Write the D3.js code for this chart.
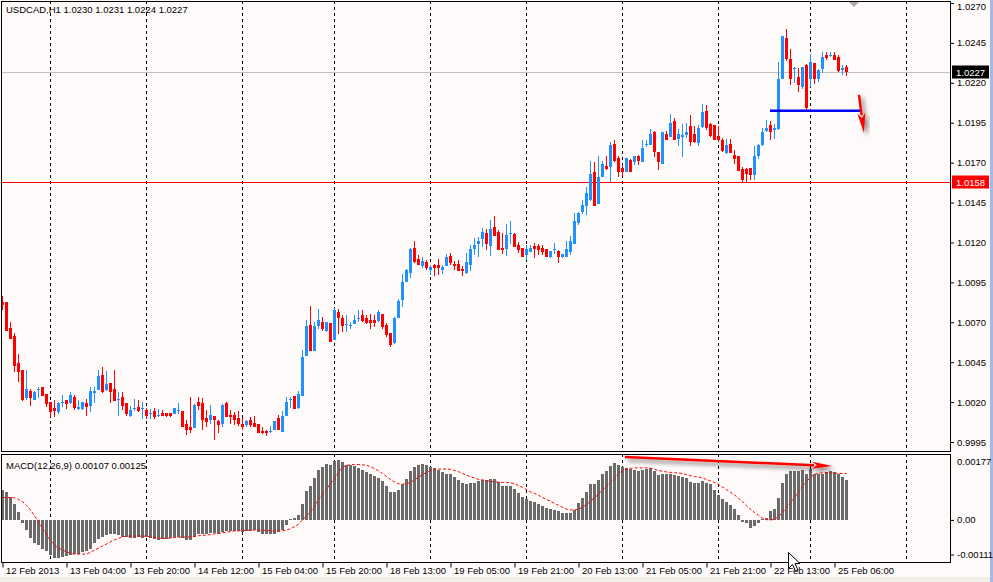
<!DOCTYPE html>
<html><head><meta charset="utf-8">
<script src="https://cdn.jsdelivr.net/npm/d3@7"></script>
<style>
body{margin:0;background:#FFFAFA;overflow:hidden}
text{font-family:"Liberation Sans",Arial,sans-serif;font-size:9.5px;fill:#000}
</style>
</head><body>
<svg id="chart" width="993" height="582"></svg>
<script>
// ---------- DATA ----------
const symbolTitle = "USDCAD,H1  1.0230 1.0231 1.0224 1.0227";
const macdTitle = "MACD(12,26,9) 0.00107 0.00125";

const opens = [
1.00827,1.00827,1.00664,1.00614,1.00445,1.00401,1.00224,1.00270,1.00213,1.00278,
1.00295,1.00249,1.00201,1.00165,1.00140,1.00196,1.00213,1.00192,1.00232,1.00157,
1.00157,1.00194,1.00176,1.00259,1.00276,1.00370,1.00276,1.00320,1.00282,1.00217,
1.00232,1.00194,1.00113,1.00161,1.00169,1.00161,1.00150,1.00130,1.00144,1.00117,
1.00130,1.00130,1.00130,1.00125,1.00148,1.00144,1.00063,1.00044,1.00038,1.00201,
1.00194,1.00100,1.00088,1.00113,1.00084,1.00063,1.00194,1.00119,1.00119,1.00100,
1.00063,1.00057,1.00088,1.00069,1.00063,1.00019,1.00019,1.00017,1.00025,1.00100,
1.00013,1.00113,1.00217,1.00238,1.00163,1.00238,1.00489,1.00683,1.00522,1.00677,
1.00702,1.00646,1.00696,1.00589,1.00765,1.00727,1.00687,1.00679,1.00689,1.00725,
1.00746,1.00727,1.00714,1.00714,1.00708,1.00752,1.00683,1.00633,1.00570,1.00727,
1.00840,1.00953,1.01009,1.01166,1.01097,1.01053,1.01078,1.01028,1.01059,1.01059,
1.01028,1.01053,1.01115,1.01065,1.01065,1.01034,1.01009,1.01059,1.01159,1.01191,
1.01222,1.01260,1.01178,1.01297,1.01266,1.01166,1.01159,1.01258,1.01253,1.01184,
1.01166,1.01122,1.01141,1.01178,1.01178,1.01166,1.01159,1.01109,1.01157,1.01147,
1.01109,1.01109,1.01141,1.01191,1.01322,1.01393,1.01431,1.01466,1.01642,1.01443,
1.01610,1.01679,1.01673,1.01817,1.01729,1.01667,1.01642,1.01717,1.01705,1.01742,
1.01705,1.01811,1.01811,1.01893,1.01767,1.01692,1.01880,1.01861,1.01961,1.01848,
1.01861,1.01874,1.01930,1.01880,1.01823,1.01924,1.02024,1.01942,1.01936,1.01867,
1.01842,1.01761,1.01817,1.01748,1.01742,1.01661,1.01661,1.01667,1.01623,1.01742,
1.01811,1.01899,1.01936,1.01905,1.01911,1.02224,1.02481,1.02350,1.02287,1.02237,
1.02174,1.02312,1.02224,1.02325,1.02224,1.02287,1.02375,1.02373,1.02375,1.02362,
1.02281,1.02300];

const highs = [
1.00865,1.00827,1.00702,1.00635,1.00501,1.00401,1.00401,1.00282,1.00267,1.00293,
1.00295,1.00249,1.00201,1.00213,1.00201,1.00244,1.00213,1.00263,1.00244,1.00213,
1.00201,1.00217,1.00295,1.00293,1.00401,1.00418,1.00395,1.00320,1.00401,1.00263,
1.00263,1.00194,1.00176,1.00222,1.00213,1.00201,1.00163,1.00157,1.00163,1.00157,
1.00150,1.00130,1.00130,1.00163,1.00194,1.00144,1.00088,1.00232,1.00188,1.00232,
1.00226,1.00150,1.00182,1.00113,1.00088,1.00188,1.00201,1.00150,1.00138,1.00144,
1.00100,1.00088,1.00107,1.00113,1.00063,1.00044,1.00025,1.00050,1.00082,1.00119,
1.00144,1.00232,1.00232,1.00238,1.00270,1.00526,1.00714,1.00802,1.00702,1.00783,
1.00733,1.00702,1.00696,1.00790,1.00783,1.00746,1.00746,1.00702,1.00746,1.00777,
1.00777,1.00746,1.00752,1.00746,1.00777,1.00752,1.00696,1.00633,1.00733,1.00846,
1.01003,1.01034,1.01166,1.01209,1.01122,1.01109,1.01090,1.01059,1.01065,1.01097,
1.01059,1.01128,1.01134,1.01084,1.01090,1.01053,1.01134,1.01184,1.01228,1.01234,
1.01291,1.01285,1.01341,1.01366,1.01278,1.01260,1.01316,1.01335,1.01260,1.01203,
1.01166,1.01184,1.01184,1.01197,1.01191,1.01184,1.01159,1.01147,1.01197,1.01153,
1.01128,1.01209,1.01241,1.01385,1.01391,1.01466,1.01548,1.01711,1.01705,1.01742,
1.01711,1.01742,1.01830,1.01842,1.01742,1.01686,1.01729,1.01723,1.01742,1.01748,
1.01842,1.01842,1.01911,1.01899,1.01767,1.01893,1.01899,1.02005,1.01980,1.01911,
1.01942,1.01949,1.01999,1.01930,1.01936,1.02068,1.02061,1.01949,1.01936,1.01930,
1.01855,1.01848,1.01848,1.01780,1.01742,1.01673,1.01667,1.01667,1.01805,1.01817,
1.01917,1.01968,1.01961,1.01942,1.02331,1.02494,1.02538,1.02412,1.02300,1.02293,
1.02300,1.02318,1.02381,1.02325,1.02287,1.02394,1.02394,1.02394,1.02394,1.02375,
1.02312,1.02310];

const lows = [
1.00777,1.00648,1.00597,1.00391,1.00328,1.00209,1.00213,1.00176,1.00213,1.00226,
1.00240,1.00171,1.00109,1.00109,1.00125,1.00167,1.00157,1.00188,1.00150,1.00150,
1.00150,1.00113,1.00140,1.00196,1.00276,1.00259,1.00270,1.00196,1.00207,1.00113,
1.00150,1.00113,1.00107,1.00144,1.00138,1.00094,1.00096,1.00094,1.00094,1.00107,
1.00113,1.00107,1.00107,1.00125,1.00125,1.00044,0.99994,1.00006,1.00038,1.00150,
1.00025,1.00046,1.00063,0.99963,1.00006,1.00044,1.00107,1.00063,1.00057,1.00050,
1.00025,1.00046,1.00046,1.00044,1.00006,1.00000,0.99988,1.00008,1.00025,1.00025,
1.00013,1.00113,1.00163,1.00157,1.00157,1.00238,1.00489,1.00522,1.00518,1.00658,
1.00646,1.00639,1.00577,1.00589,1.00627,1.00639,1.00639,1.00658,1.00689,1.00702,
1.00702,1.00689,1.00658,1.00671,1.00702,1.00658,1.00608,1.00545,1.00564,1.00727,
1.00796,1.00953,1.00978,1.01072,1.01059,1.01040,1.01028,1.00996,1.00990,1.00996,
1.01003,1.01053,1.01059,1.01028,1.01021,1.00990,1.01003,1.01021,1.01122,1.01109,
1.01172,1.01153,1.01115,1.01241,1.01153,1.01128,1.01115,1.01191,1.01172,1.01134,
1.01109,1.01090,1.01141,1.01103,1.01122,1.01122,1.01109,1.01103,1.01128,1.01072,
1.01103,1.01109,1.01122,1.01191,1.01310,1.01379,1.01372,1.01460,1.01431,1.01443,
1.01610,1.01654,1.01579,1.01705,1.01610,1.01617,1.01642,1.01642,1.01686,1.01686,
1.01705,1.01798,1.01811,1.01736,1.01654,1.01692,1.01840,1.01861,1.01840,1.01805,
1.01736,1.01855,1.01805,1.01823,1.01805,1.01917,1.01905,1.01861,1.01840,1.01830,
1.01767,1.01755,1.01761,1.01692,1.01648,1.01581,1.01581,1.01592,1.01592,1.01723,
1.01805,1.01893,1.01840,1.01848,1.01905,1.02224,1.02337,1.02187,1.02199,1.02143,
1.02162,1.02024,1.02174,1.02193,1.02206,1.02262,1.02343,1.02362,1.02343,1.02268,
1.02250,1.02240];

const closes = [
1.00810,1.00648,1.00597,1.00426,1.00391,1.00213,1.00282,1.00228,1.00263,1.00284,
1.00240,1.00188,1.00140,1.00144,1.00192,1.00201,1.00188,1.00244,1.00163,1.00171,
1.00201,1.00167,1.00270,1.00270,1.00364,1.00263,1.00313,1.00263,1.00207,1.00222,
1.00176,1.00125,1.00150,1.00165,1.00144,1.00165,1.00113,1.00134,1.00107,1.00121,
1.00113,1.00113,1.00113,1.00163,1.00152,1.00044,1.00025,1.00025,1.00182,1.00176,
1.00088,1.00077,1.00119,1.00088,1.00059,1.00182,1.00107,1.00107,1.00088,1.00063,
1.00044,1.00082,1.00057,1.00044,1.00006,1.00006,1.00006,1.00021,1.00082,1.00025,
1.00113,1.00201,1.00222,1.00157,1.00251,1.00483,1.00677,1.00522,1.00677,1.00714,
1.00658,1.00702,1.00577,1.00777,1.00727,1.00677,1.00691,1.00683,1.00714,1.00729,
1.00708,1.00696,1.00696,1.00696,1.00765,1.00671,1.00620,1.00558,1.00727,1.00834,
1.00953,1.01028,1.01159,1.01078,1.01059,1.01084,1.01040,1.01047,1.01040,1.01040,
1.01047,1.01109,1.01072,1.01053,1.01021,1.01021,1.01078,1.01159,1.01184,1.01209,
1.01266,1.01191,1.01285,1.01241,1.01153,1.01153,1.01247,1.01262,1.01172,1.01153,
1.01109,1.01159,1.01166,1.01159,1.01153,1.01141,1.01109,1.01147,1.01161,1.01109,
1.01128,1.01159,1.01209,1.01335,1.01385,1.01435,1.01510,1.01629,1.01431,1.01610,
1.01692,1.01661,1.01811,1.01711,1.01642,1.01642,1.01729,1.01642,1.01742,1.01711,
1.01792,1.01817,1.01880,1.01767,1.01705,1.01893,1.01842,1.01949,1.01842,1.01880,
1.01874,1.01893,1.01830,1.01830,1.01917,1.02018,1.01917,1.01867,1.01840,1.01840,
1.01773,1.01811,1.01761,1.01723,1.01648,1.01592,1.01629,1.01623,1.01742,1.01811,
1.01893,1.01917,1.01893,1.01917,1.02224,1.02494,1.02350,1.02224,1.02293,1.02187,
1.02300,1.02043,1.02331,1.02224,1.02281,1.02362,1.02356,1.02377,1.02343,1.02275,
1.02293,1.02270];

const macdMain = [
0.00081,0.00075,0.00063,0.00045,0.00023,-0.00008,-0.00026,-0.00046,-0.00060,-0.00066,
-0.00075,-0.00082,-0.00092,-0.00099,-0.00099,-0.00097,-0.00095,-0.00091,-0.00089,-0.00089,
-0.00085,-0.00082,-0.00075,-0.00060,-0.00050,-0.00044,-0.00039,-0.00037,-0.00037,-0.00039,
-0.00044,-0.00045,-0.00046,-0.00046,-0.00044,-0.00046,-0.00045,-0.00047,-0.00050,-0.00051,
-0.00050,-0.00049,-0.00047,-0.00044,-0.00044,-0.00046,-0.00051,-0.00052,-0.00044,-0.00036,
-0.00035,-0.00035,-0.00033,-0.00034,-0.00035,-0.00030,-0.00028,-0.00028,-0.00028,-0.00028,
-0.00030,-0.00029,-0.00028,-0.00026,-0.00030,-0.00035,-0.00036,-0.00036,-0.00035,-0.00030,
-0.00026,-0.00012,0.00004,0.00007,0.00014,0.00045,0.00079,0.00092,0.00112,0.00134,
0.00143,0.00150,0.00148,0.00158,0.00161,0.00156,0.00149,0.00148,0.00145,0.00139,
0.00134,0.00128,0.00123,0.00118,0.00114,0.00105,0.00092,0.00076,0.00076,0.00081,
0.00096,0.00110,0.00132,0.00143,0.00147,0.00150,0.00148,0.00143,0.00140,0.00134,
0.00128,0.00125,0.00124,0.00116,0.00109,0.00101,0.00097,0.00099,0.00101,0.00105,
0.00109,0.00109,0.00110,0.00110,0.00103,0.00092,0.00092,0.00092,0.00084,0.00074,
0.00063,0.00057,0.00052,0.00050,0.00045,0.00038,0.00034,0.00030,0.00029,0.00026,
0.00019,0.00019,0.00021,0.00028,0.00047,0.00060,0.00075,0.00097,0.00097,0.00109,
0.00124,0.00132,0.00146,0.00152,0.00149,0.00143,0.00139,0.00137,0.00134,0.00132,
0.00134,0.00137,0.00139,0.00132,0.00121,0.00125,0.00124,0.00124,0.00121,0.00119,
0.00116,0.00112,0.00103,0.00099,0.00101,0.00106,0.00101,0.00096,0.00081,0.00068,
0.00057,0.00050,0.00041,0.00030,0.00014,-0.00004,-0.00008,-0.00019,-0.00015,-0.00008,
0.00004,0.00007,0.00025,0.00030,0.00059,0.00101,0.00123,0.00132,0.00132,0.00132,
0.00134,0.00125,0.00137,0.00125,0.00125,0.00125,0.00128,0.00132,0.00128,0.00123,
0.00116,0.00107];

const macdSignal = [
0.00061,0.00061,0.00061,0.00060,0.00056,0.00050,0.00040,0.00028,0.00012,-0.00004,
-0.00021,-0.00039,-0.00054,-0.00066,-0.00074,-0.00079,-0.00084,-0.00088,-0.00090,-0.00090,
-0.00090,-0.00090,-0.00085,-0.00079,-0.00074,-0.00068,-0.00063,-0.00057,-0.00052,-0.00048,
-0.00044,-0.00042,-0.00042,-0.00042,-0.00042,-0.00042,-0.00042,-0.00044,-0.00045,-0.00047,
-0.00048,-0.00048,-0.00047,-0.00046,-0.00045,-0.00045,-0.00044,-0.00044,-0.00043,-0.00041,
-0.00040,-0.00039,-0.00038,-0.00036,-0.00035,-0.00033,-0.00031,-0.00030,-0.00028,-0.00028,
-0.00027,-0.00026,-0.00026,-0.00026,-0.00026,-0.00026,-0.00027,-0.00028,-0.00028,-0.00028,
-0.00028,-0.00026,-0.00022,-0.00017,-0.00010,0.00001,0.00012,0.00023,0.00036,0.00057,
0.00068,0.00082,0.00099,0.00109,0.00130,0.00141,0.00147,0.00148,0.00149,0.00149,
0.00148,0.00147,0.00143,0.00138,0.00132,0.00125,0.00117,0.00109,0.00102,0.00098,
0.00096,0.00098,0.00101,0.00108,0.00115,0.00122,0.00128,0.00132,0.00135,0.00137,
0.00137,0.00137,0.00136,0.00133,0.00130,0.00125,0.00121,0.00116,0.00113,0.00109,
0.00108,0.00106,0.00104,0.00103,0.00102,0.00101,0.00101,0.00100,0.00098,0.00093,
0.00088,0.00082,0.00076,0.00072,0.00067,0.00061,0.00056,0.00051,0.00045,0.00040,
0.00035,0.00030,0.00028,0.00028,0.00030,0.00035,0.00042,0.00051,0.00060,0.00070,
0.00081,0.00092,0.00101,0.00113,0.00124,0.00132,0.00137,0.00139,0.00140,0.00140,
0.00140,0.00140,0.00139,0.00136,0.00133,0.00131,0.00129,0.00128,0.00127,0.00126,
0.00125,0.00122,0.00119,0.00117,0.00116,0.00113,0.00109,0.00105,0.00101,0.00096,
0.00089,0.00082,0.00075,0.00068,0.00059,0.00050,0.00039,0.00030,0.00021,0.00014,
0.00006,0.00002,0.00001,0.00003,0.00010,0.00021,0.00034,0.00047,0.00061,0.00075,
0.00090,0.00103,0.00115,0.00123,0.00125,0.00127,0.00127,0.00127,0.00126,0.00125,
0.00125,0.00125];

const priceTicks = [1.0270,1.0245,1.0220,1.0195,1.0170,1.0145,1.0120,1.0095,1.0070,1.0045,1.0020,0.9995];
const macdTicks = [0.00177, 0.00, -0.00111];
const macdTickLabels = ["0.00177", "0.00", "-0.00111"];
const timeLabels = ["12 Feb 2013","13 Feb 04:00","13 Feb 20:00","14 Feb 12:00","15 Feb 04:00",
  "15 Feb 20:00","18 Feb 13:00","19 Feb 05:00","19 Feb 21:00","20 Feb 13:00","21 Feb 05:00",
  "21 Feb 21:00","22 Feb 13:00","25 Feb 06:00"];
const timeLabelBars = [0,16,32,48,64,80,96,112,128,144,160,176,192,208];
const dayStartBars = [12,36,60,83,107,131,155,179,202,226];
const supportLevel = 1.0158;
const blueLevel = {price:1.02025, from:192, to:214.5};
const priceArrow = {from:[214.25,1.02124], to:[215.5,1.01886]};
const macdArrow = {from:[155.75,0.00169], to:[207.5,0.00145]};

// ---------- LAYOUT ----------
const svg = d3.select("#chart");
const L = 1, R = 950, mainTop = 1, mainBot = 451, macdTop = 454, macdBot = 562;
const n = closes.length;

const x = d3.scaleLinear().domain([0, 211]).range([2, 846]);
const y = d3.scaleLinear().domain([0.9995, 1.0270]).range([442, 3]);
const ym = d3.scaleLinear().domain([-0.00111, 0.00177]).range([macdBot, macdTop]);

svg.append("rect").attr("width",993).attr("height",582).attr("fill","#FFFAFA");
svg.append("rect").attr("x",0).attr("y",577).attr("width",993).attr("height",5).attr("fill","#F1EFE8");
svg.append("rect").attr("x",990).attr("y",0).attr("width",3).attr("height",582).attr("fill","#A7B7E6");

const defs = svg.append("defs");
defs.append("clipPath").attr("id","clipMain").append("rect")
  .attr("x",L).attr("y",mainTop).attr("width",R-L).attr("height",mainBot-mainTop);
defs.append("clipPath").attr("id","clipMacd").append("rect")
  .attr("x",L).attr("y",macdTop).attr("width",R-L).attr("height",macdBot-macdTop);
const f = defs.append("filter").attr("id","shadow").attr("x","-50%").attr("y","-50%").attr("width","200%").attr("height","200%");
f.append("feGaussianBlur").attr("in","SourceAlpha").attr("stdDeviation",2).attr("result","b");
f.append("feOffset").attr("in","b").attr("dx",3).attr("dy",3).attr("result","o");
f.append("feComponentTransfer").attr("in","o").attr("result","o2")
  .append("feFuncA").attr("type","linear").attr("slope",0.55);
const fm = f.append("feMerge");
fm.append("feMergeNode").attr("in","o2");
fm.append("feMergeNode").attr("in","SourceGraphic");

// grid (dashed day separators)
const grid = svg.append("g").attr("shape-rendering","crispEdges");
[[mainTop,mainBot],[macdTop,macdBot]].forEach(([a,b])=>{
  grid.selectAll(null).data(dayStartBars).enter().append("line")
    .attr("x1",d=>x(d)+0.5).attr("x2",d=>x(d)+0.5).attr("y1",a).attr("y2",b)
    .attr("stroke","#000").attr("stroke-dasharray","3,3");
});

// ---------- MAIN PANE ----------
const main = svg.append("g").attr("clip-path","url(#clipMain)");
const bars = d3.range(n);

main.append("line").attr("x1",L).attr("x2",R).attr("y1",Math.round(y(supportLevel))+0.5).attr("y2",Math.round(y(supportLevel))+0.5)
  .attr("stroke","#FF0000");
const last = closes[n-1];
main.append("line").attr("x1",L).attr("x2",R).attr("y1",Math.round(y(last))+0.5).attr("y2",Math.round(y(last))+0.5)
  .attr("stroke","#C0C0C0");

const cg = main.append("g").attr("shape-rendering","crispEdges");
cg.selectAll("line.w").data(bars).enter().append("line")
  .attr("x1",i=>x(i)+0.5).attr("x2",i=>x(i)+0.5)
  .attr("y1",i=>y(highs[i])).attr("y2",i=>y(lows[i]))
  .attr("stroke",i=>closes[i]>=opens[i]?"#1E90FF":"#FF0000");
cg.selectAll("rect.b").data(bars).enter().append("rect")
  .attr("x",i=>x(i)-1).attr("width",3)
  .attr("y",i=>y(Math.max(opens[i],closes[i])))
  .attr("height",i=>Math.max(1, Math.abs(y(opens[i])-y(closes[i]))))
  .attr("fill",i=>closes[i]>=opens[i]?"#1E90FF":"#FF0000");

main.append("line").attr("x1",x(blueLevel.from)).attr("x2",x(blueLevel.to))
  .attr("y1",y(blueLevel.price)).attr("y2",y(blueLevel.price))
  .attr("stroke","#0000FF").attr("stroke-width",2.5);

function arrow(g, p0, p1, head, wid){
  const dx = p1[0]-p0[0], dy = p1[1]-p0[1], len = Math.hypot(dx,dy);
  const ux = dx/len, uy = dy/len, px = -uy, py = ux;
  const bx = p1[0]-ux*head, by = p1[1]-uy*head;
  const a = g.append("g").attr("filter","url(#shadow)");
  a.append("line").attr("x1",p0[0]).attr("y1",p0[1]).attr("x2",bx+ux*2).attr("y2",by+uy*2)
    .attr("stroke","#FF0000").attr("stroke-width",2.5);
  a.append("path").attr("d",`M${p1[0]},${p1[1]}L${bx+px*wid},${by+py*wid}L${bx+ux*5},${by+uy*5}L${bx-px*wid},${by-py*wid}Z`)
    .attr("fill","#FF0000");
}
arrow(svg, [x(priceArrow.from[0]), y(priceArrow.from[1])], [x(priceArrow.to[0]), y(priceArrow.to[1])], 20, 4);

// ---------- MACD PANE ----------
const mg = svg.append("g").attr("clip-path","url(#clipMacd)");
mg.append("g").attr("shape-rendering","crispEdges").selectAll("rect").data(bars).enter().append("rect")
  .attr("x",i=>x(i)-1).attr("width",3)
  .attr("y",i=>Math.min(ym(0),ym(macdMain[i])))
  .attr("height",i=>Math.max(1,Math.abs(ym(macdMain[i])-ym(0))))
  .attr("fill","#6A6A6A");
mg.append("path").datum(bars)
  .attr("d",d3.line().x(i=>x(i)+0.5).y(i=>ym(macdSignal[i])))
  .attr("fill","none").attr("stroke","#FF0000").attr("stroke-width",1).attr("stroke-dasharray","3,2");
arrow(svg, [x(macdArrow.from[0]), ym(macdArrow.from[1])], [x(macdArrow.to[0]), ym(macdArrow.to[1])], 20, 3.5);

// ---------- FRAMES ----------
const fr = svg.append("g").attr("shape-rendering","crispEdges").attr("fill","none").attr("stroke","#000");
fr.append("rect").attr("x",L+0.5).attr("y",mainTop+0.5).attr("width",R-L).attr("height",mainBot-mainTop);
fr.append("rect").attr("x",L+0.5).attr("y",macdTop+0.5).attr("width",R-L).attr("height",macdBot-macdTop);

svg.append("path").attr("d","M849,2L859,2L854,7Z").attr("fill","#A9A9A9");

// ---------- AXES ----------
const pAxis = d3.axisRight(y).tickValues(priceTicks).tickSize(3).tickPadding(3).tickFormat(d3.format(".4f"));
const pa = svg.append("g").attr("transform",`translate(${R+1},0)`).call(pAxis);
pa.select(".domain").remove();
pa.selectAll("text").attr("font-family","Liberation Sans").attr("font-size","9.5px").attr("fill","#000")
  .attr("y",d=>Math.max(0, 6 - y(d)));
pa.selectAll("line").attr("stroke","#000");

const mAxis = d3.axisRight(ym).tickValues(macdTicks).tickSize(3).tickPadding(3)
  .tickFormat((d,i)=>macdTickLabels[i]);
const ma = svg.append("g").attr("transform",`translate(${R+1},0)`).call(mAxis);
ma.select(".domain").remove();
ma.selectAll(".tick").attr("transform",d=>`translate(0,${Math.min(555,Math.max(462,ym(d)))})`);
ma.selectAll(".tick").filter(d=>d===0.00177).select("line").remove();
ma.selectAll("text").attr("font-family","Liberation Sans").attr("font-size","9.5px").attr("fill","#000");
ma.selectAll("line").attr("stroke","#000");

function priceBox(v, bg, fg){
  const g = svg.append("g").attr("transform",`translate(951,${Math.round(y(v))})`);
  g.append("rect").attr("x",1).attr("y",-6.5).attr("width",37).attr("height",13).attr("fill",bg);
  g.append("text").attr("x",5).attr("y",3.5).text(d3.format(".4f")(v)).style("fill",fg);
}
priceBox(last, "#000000", "#FFFFFF");
priceBox(supportLevel, "#FF0000", "#FFFFFF");

const tAxis = d3.axisBottom(x).tickValues(timeLabelBars).tickSize(5).tickPadding(0)
  .tickFormat((d,i)=>timeLabels[i]);
const ta = svg.append("g").attr("transform",`translate(0.5,${macdBot+0.5})`).call(tAxis);
ta.select(".domain").remove();
ta.selectAll("line").attr("stroke","#000");
ta.selectAll("text").attr("text-anchor","start").attr("x",3).attr("y",8).attr("dy","0.35em")
  .attr("font-family","Liberation Sans").attr("font-size","9.5px").attr("fill","#000");

svg.append("text").attr("x",6).attr("y",13).text(symbolTitle);
svg.append("text").attr("x",6).attr("y",469).text(macdTitle);

svg.append("path").attr("transform","translate(788.5,552.5)")
  .attr("d","M0,0L0,16L4,12L7,18.5L9.5,17.5L6.5,11L11.5,11Z")
  .attr("fill","#FFFFFF").attr("stroke","#000").attr("stroke-width",1);
</script>
</body></html>
